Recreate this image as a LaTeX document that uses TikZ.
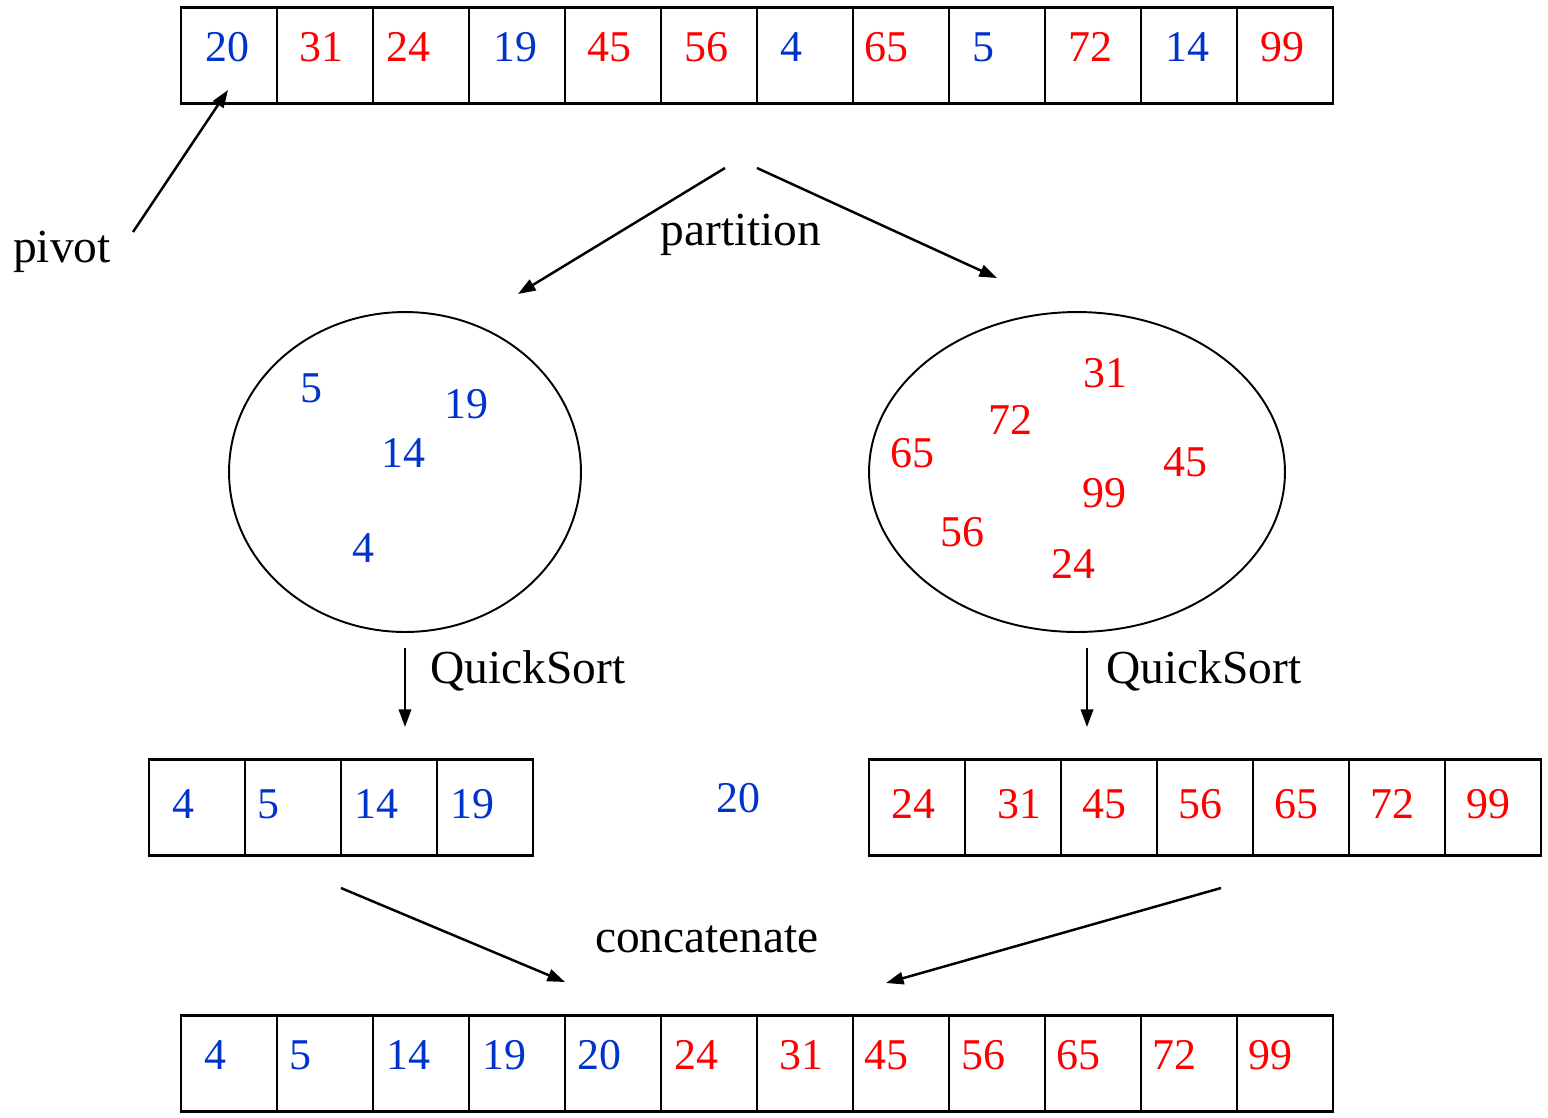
\documentclass[tikz,border=0pt]{standalone}
\usepackage{fontspec}
\setmainfont{Liberation Serif}
\usetikzlibrary{arrows.meta,shapes.geometric}
\definecolor{lowblue}{RGB}{0,51,204}
\definecolor{highred}{RGB}{255,0,0}

\begin{document}
\begin{tikzpicture}[x=0.02cm,y=-0.02cm,>={Triangle[length=10pt,width=7pt]},
  cell/.style={draw,line width=1.6pt,minimum size=1.92cm,inner sep=0pt,outer sep=0pt},
  num/.style={anchor=base,inner sep=0pt,font=\fontsize{25}{30}\selectfont},
  label/.style={anchor=base,inner sep=0pt,font=\fontsize{27}{32}\selectfont},
  blob/.style={draw,ellipse,line width=1.1pt,minimum height=6.4cm,inner sep=0pt},
  flow/.style={->,line width=1.4pt}]

  \useasboundingbox (0,0) rectangle (1548,1117);

  % the four arrays
  \foreach \i in {0,...,11} \node[cell] (top\i) at (229+96*\i,55.5) {};
  \foreach \i in {0,...,3}  \node[cell] (left\i) at (197+96*\i,807.5) {};
  \foreach \i in {0,...,6}  \node[cell] (right\i) at (917+96*\i,807.5) {};
  \foreach \i in {0,...,11} \node[cell] (bot\i) at (229+96*\i,1063.5) {};

  % the two parts
  \node[blob,minimum width=7.04cm] (low)  at (405,472)  {};
  \node[blob,minimum width=8.32cm] (high) at (1077,472) {};

  % numbers
  \foreach \x/\v/\c in {227/20/lowblue,321/31/highred,408/24/highred,515/19/lowblue,
      609/45/highred,706/56/highred,791/4/lowblue,886/65/highred,983/5/lowblue,
      1090/72/highred,1187/14/lowblue,1282/99/highred}
    \node[num,text=\c] (t\v) at (\x,61) {\v};
  \foreach \x/\y/\v/\c in {311/402/5/lowblue,466/418/19/lowblue,403/467/14/lowblue,
      363/562/4/lowblue,1105/387/31/highred,1010/434/72/highred,912/467/65/highred,
      1185/476/45/highred,1104/507/99/highred,962/546/56/highred,1073/578/24/highred}
    \node[num,text=\c] (e\v) at (\x,\y) {\v};
  \foreach \x/\v/\c in {183/4/lowblue,268/5/lowblue,376/14/lowblue,472/19/lowblue,
      738/20/lowblue,913/24/highred,1019/31/highred,1104/45/highred,1200/56/highred,
      1296/65/highred,1392/72/highred,1488/99/highred}
    \node[num,text=\c] (m\v) at (\x,\ifnum\v=20 812\else 818\fi) {\v};
  \foreach \x/\v/\c in {215/4/lowblue,300/5/lowblue,408/14/lowblue,504/19/lowblue,
      599/20/lowblue,696/24/highred,801/31/highred,886/45/highred,983/56/highred,
      1078/65/highred,1174/72/highred,1270/99/highred}
    \node[num,text=\c] (b\v) at (\x,1069) {\v};

  % labels
  \node[label] (pivot) at (62,262) {pivot};
  \node[label] (part)  at (741,245) {partition};
  \node[label,anchor=base west] (qsl) at (430,683) {QuickSort};
  \node[label,anchor=base west] (qsr) at (1106,683) {QuickSort};
  \node[label] (cat)   at (707,952) {concatenate};

  % arrows
  \coordinate (pv0) at (133,232);  \coordinate (pv1) at (228,90);
  \coordinate (pa0) at (725,168);  \coordinate (pa1) at (518,294);
  \coordinate (pb0) at (757,168);  \coordinate (pb1) at (997,278);
  \coordinate (qa0) at (405,648);  \coordinate (qa1) at (405,727);
  \coordinate (qb0) at (1087,648); \coordinate (qb1) at (1087,727);
  \coordinate (ca0) at (341,888);  \coordinate (ca1) at (565,982);
  \coordinate (cb0) at (1221,888); \coordinate (cb1) at (886,983);
  \foreach \a/\b in {pv0/pv1,pa0/pa1,pb0/pb1,qa0/qa1,qb0/qb1,ca0/ca1,cb0/cb1}
    \draw[flow] (\a) -- (\b);

\end{tikzpicture}
\end{document}
